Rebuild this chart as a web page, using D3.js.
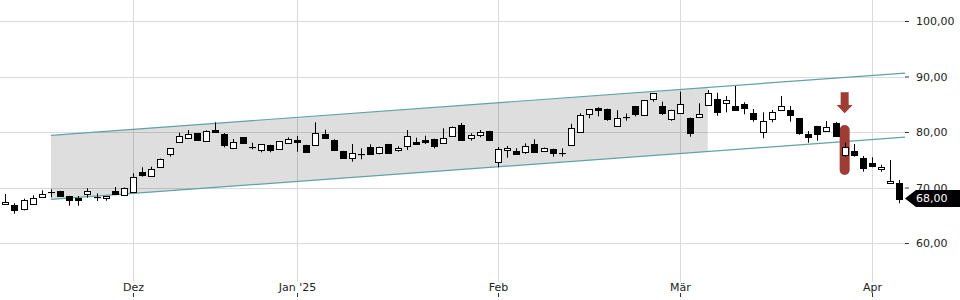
<!DOCTYPE html>
<html><head><meta charset="utf-8">
<script src="https://cdn.jsdelivr.net/npm/d3@7"></script>
<style>
html,body{margin:0;padding:0;background:#fff;}
svg{display:block;font-family:"DejaVu Sans",sans-serif;}
</style></head>
<body><svg id="chart" width="960" height="300"></svg>
<script>
const dates = [
"2024-11-12","2024-11-13","2024-11-14","2024-11-15","2024-11-18","2024-11-19","2024-11-20","2024-11-21","2024-11-22","2024-11-25","2024-11-26","2024-11-27","2024-11-28","2024-11-29",
"2024-12-02","2024-12-03","2024-12-04","2024-12-05","2024-12-06","2024-12-09","2024-12-10","2024-12-11","2024-12-12","2024-12-13","2024-12-16","2024-12-17","2024-12-18","2024-12-19","2024-12-20","2024-12-23","2024-12-27","2024-12-30",
"2025-01-02","2025-01-03","2025-01-06","2025-01-07","2025-01-08","2025-01-09","2025-01-10","2025-01-13","2025-01-14","2025-01-15","2025-01-16","2025-01-17","2025-01-20","2025-01-21","2025-01-22","2025-01-23","2025-01-24","2025-01-27","2025-01-28","2025-01-29","2025-01-30","2025-01-31",
"2025-02-03","2025-02-04","2025-02-05","2025-02-06","2025-02-07","2025-02-10","2025-02-11","2025-02-12","2025-02-13","2025-02-14","2025-02-17","2025-02-18","2025-02-19","2025-02-20","2025-02-21","2025-02-24","2025-02-25","2025-02-26","2025-02-27","2025-02-28",
"2025-03-03","2025-03-04","2025-03-05","2025-03-06","2025-03-07","2025-03-10","2025-03-11","2025-03-12","2025-03-13","2025-03-14","2025-03-17","2025-03-18","2025-03-19","2025-03-20","2025-03-21","2025-03-24","2025-03-25","2025-03-26","2025-03-27","2025-03-28","2025-03-31",
"2025-04-01","2025-04-02","2025-04-03","2025-04-04"];

const open  = [67.03,66.79,66.07,67.03,68.29,69.19,69.37,68.41,68.05,68.83,68.23,68.05,69.37,68.59,
69.24,72.79,72.02,73.69,75.98,78.2,78.92,79.75,78.32,80.31,79.64,77.06,79.05,77.24,76.7,77.6,76.88,78.02,
78.61,77.66,77.66,79.64,78.61,76.58,75.26,76.04,77.24,76.27,77.78,76.76,77.53,78.25,78.61,78.74,77.96,79.33,81.21,78.97,79.46,80.18,
74.65,76.7,76.58,76.4,77.78,76.52,76.88,76.15,77.57,79.95,83.19,84.36,84.14,81.03,82.65,84.68,83.06,85.95,84.72,82.34,
83.37,82.58,82.65,84.95,85.91,85.17,84.68,85.05,83.37,79.95,82.29,83.91,83.91,82.47,79.64,81.03,80.13,81.62,75.8,76.58,75.26,
74.41,73.28,70.76,70.76];
const high  = [68.83,67.15,67.98,68.59,69.5,69.68,69.4,68.5,68.47,69.86,68.95,68.45,70.09,70.0,
72.56,73.64,73.75,75.2,77.1,79.87,80.36,79.8,80.3,81.75,79.8,78.74,79.1,78.07,77.8,77.7,78.35,79.05,
79.28,77.7,81.75,80.41,78.7,76.6,77.84,77.06,77.78,77.35,77.85,77.42,80.36,78.97,79.33,78.8,80.67,81.0,81.62,79.77,80.36,80.2,
77.3,77.48,77.06,77.96,78.68,77.2,77.0,77.06,81.48,83.37,84.1,84.45,84.2,83.93,83.33,84.7,85.7,87.0,85.46,84.0,
87.26,82.6,85.17,87.57,87.06,86.49,88.29,85.35,84.14,83.55,83.96,86.49,84.68,82.5,80.18,81.1,81.98,81.8,78.07,77.84,75.68,
75.44,74.11,74.95,71.35];
const low   = [67.0,65.28,65.89,67.03,68.29,68.23,68.4,66.72,66.72,68.16,67.57,67.62,68.85,68.59,
69.06,71.95,72.0,73.69,75.55,78.2,78.9,78.4,78.3,79.95,77.24,77.0,77.9,76.88,76.34,76.34,76.88,78.0,
76.45,76.3,77.6,78.8,76.7,75.3,74.65,75.08,76.0,75.98,76.1,76.45,76.76,77.75,77.84,77.06,77.9,79.3,78.6,78.43,79.05,78.5,
73.64,75.37,76.0,76.04,76.4,76.4,75.55,75.55,77.5,79.9,82.47,82.81,82.02,81.0,82.04,82.81,83.0,85.46,83.06,82.02,
83.3,79.15,82.6,84.9,82.92,83.55,84.0,83.19,81.86,78.86,81.75,83.9,81.86,79.51,78.07,78.43,80.1,79.2,75.55,75.55,72.85,
73.64,72.85,70.7,67.15];
const close = [67.44,65.89,67.75,68.05,68.77,69.19,68.41,67.75,67.69,69.37,68.23,68.41,68.88,69.97,
71.84,72.2,73.39,75.19,77.06,79.23,79.59,78.5,80.23,80.0,77.66,78.25,77.96,77.24,77.78,76.82,78.32,78.74,
78.25,76.34,79.77,78.86,76.76,75.37,76.16,76.04,76.04,77.3,76.16,77.18,79.23,77.78,78.14,77.42,78.92,80.9,78.61,79.41,80.0,78.5,
76.88,77.06,76.04,77.53,76.45,77.06,76.16,76.15,80.81,83.06,84.09,84.02,82.4,82.47,82.65,83.33,85.68,86.97,83.48,83.96,
85.01,79.87,83.33,87.03,83.55,85.71,84.02,84.27,82.29,82.04,83.55,84.63,83.01,79.77,79.15,79.59,80.85,79.23,77.24,75.91,73.46,
73.93,73.64,71.17,68.0];

const yTicks = [60, 70, 80, 90, 100];
const monthTickDates = ["2024-12-02","2025-01-02","2025-02-03","2025-03-03","2025-04-01"];
const monthTickLabels = ["Dez","Jan '25","Feb","Mär","Apr"];

// trend channel: [date index, price]
const channelUpper = [[5, 79.4], [98, 90.55]];
const channelLower = [[5, 67.85], [98, 79.0]];
const channelFillEndIndex = 77;

// annotation at signal candle
const signalIndex = 92;
const signalArrow = [87.15, 84.86, 83.37]; // top, head start, tip
const signalBar = [81.26, 72.25];

const lastPrice = 68.00;

const fmt = v => d3.format(".2f")(v).replace(".", ",");

const svg = d3.select("#chart");
const W = 960, H = 300;
const plotRight = 905, plotBottom = 282;

const x = d3.scaleLinear().domain([0, dates.length - 1]).range([5.3, 899.4]);
const y = d3.scaleLinear().domain([60, 100]).range([243, 21]);

// horizontal grid
svg.append("g").selectAll("line").data(yTicks).join("line")
  .attr("x1", 0).attr("x2", plotRight)
  .attr("y1", d => Math.round(y(d)) + 0.5).attr("y2", d => Math.round(y(d)) + 0.5)
  .attr("stroke", "#dadada").attr("stroke-width", 1);

// vertical grid
const monthIdx = monthTickDates.map(d => dates.indexOf(d));
svg.append("g").selectAll("line").data(monthIdx).join("line")
  .attr("x1", d => Math.round(x(d)) + 0.5).attr("x2", d => Math.round(x(d)) + 0.5)
  .attr("y1", 0).attr("y2", plotBottom)
  .attr("stroke", "#dadada").attr("stroke-width", 1);

// channel
const lineAt = (pts, i) => pts[0][1] + (pts[1][1] - pts[0][1]) * (i - pts[0][0]) / (pts[1][0] - pts[0][0]);
const iStart = channelUpper[0][0];
const iEnd = x.invert(plotRight);
const fillPts = [
  [iStart, lineAt(channelUpper, iStart)],
  [channelFillEndIndex, lineAt(channelUpper, channelFillEndIndex)],
  [channelFillEndIndex, lineAt(channelLower, channelFillEndIndex)],
  [iStart, lineAt(channelLower, iStart)]
];
svg.append("path")
  .attr("d", d3.line().x(d => x(d[0])).y(d => y(d[1]))(fillPts) + "Z")
  .attr("fill", "#000").attr("fill-opacity", 0.13);

[channelUpper, channelLower].forEach(pts => {
  svg.append("line")
    .attr("x1", x(iStart)).attr("y1", y(lineAt(pts, iStart)))
    .attr("x2", x(iEnd)).attr("y2", y(lineAt(pts, iEnd)))
    .attr("stroke", "#5fa3a5").attr("stroke-width", 1.2);
});

// annotation
const red = "#9f3d35";
const sx = x(signalIndex);
svg.append("rect")
  .attr("x", sx - 5).attr("width", 10)
  .attr("y", y(signalBar[0])).attr("height", y(signalBar[1]) - y(signalBar[0]))
  .attr("rx", 5).attr("fill", red);
svg.append("path")
  .attr("d", `M${sx-4},${y(signalArrow[0])} L${sx+4},${y(signalArrow[0])} L${sx+4},${y(signalArrow[1])} L${sx+8},${y(signalArrow[1])} L${sx},${y(signalArrow[2])} L${sx-8},${y(signalArrow[1])} L${sx-4},${y(signalArrow[1])}Z`)
  .attr("fill", red);

// candles
const candles = dates.map((d, i) => ({ i, o: open[i], h: high[i], l: low[i], c: close[i] }));
const g = svg.append("g");
const cg = g.selectAll("g").data(candles).join("g");
cg.append("line")
  .attr("x1", d => Math.round(x(d.i)) + 0.5).attr("x2", d => Math.round(x(d.i)) + 0.5)
  .attr("y1", d => y(d.h)).attr("y2", d => y(d.l))
  .attr("stroke", "#000").attr("stroke-width", 1);
cg.append("rect")
  .attr("x", d => Math.round(x(d.i)) - 2.5).attr("width", 6)
  .attr("y", d => Math.round(y(Math.max(d.o, d.c))) + 0.5)
  .attr("height", d => Math.max(0.1, Math.round(y(Math.min(d.o, d.c))) - Math.round(y(Math.max(d.o, d.c)))))
  .attr("fill", d => d.c >= d.o ? "#fff" : "#000")
  .attr("stroke", "#000").attr("stroke-width", 1);

// y axis
const ya = svg.append("g").attr("transform", `translate(${plotRight},0)`)
  .call(d3.axisRight(y).tickValues(yTicks).tickSize(4).tickPadding(7).tickFormat(fmt));
ya.select(".domain").remove();
ya.selectAll(".tick line").attr("stroke", "#333");
ya.selectAll(".tick text").attr("font-size", 11).attr("font-family", "DejaVu Sans, sans-serif").attr("fill", "#222");

// x axis labels & ticks
const xa = svg.append("g");
xa.selectAll("text").data(monthIdx).join("text")
  .attr("x", d => Math.round(x(d)) + 0.5).attr("y", 291)
  .attr("text-anchor", "middle").attr("font-size", 11).attr("fill", "#222")
  .text((d, k) => monthTickLabels[k]);
xa.selectAll("line").data(monthIdx).join("line")
  .attr("x1", d => Math.round(x(d)) + 0.5).attr("x2", d => Math.round(x(d)) + 0.5)
  .attr("y1", 293).attr("y2", 297).attr("stroke", "#333");

// last price label
const ly = y(lastPrice);
svg.append("path")
  .attr("d", `M${plotRight},${ly} L${plotRight+11},${ly-8.5} L${W},${ly-8.5} L${W},${ly+8.5} L${plotRight+11},${ly+8.5}Z`)
  .attr("fill", "#000");
svg.append("text").attr("x", 916).attr("y", ly).attr("dy", "0.35em")
  .attr("font-size", 11).attr("fill", "#fff").text(fmt(lastPrice));
</script></body></html>
